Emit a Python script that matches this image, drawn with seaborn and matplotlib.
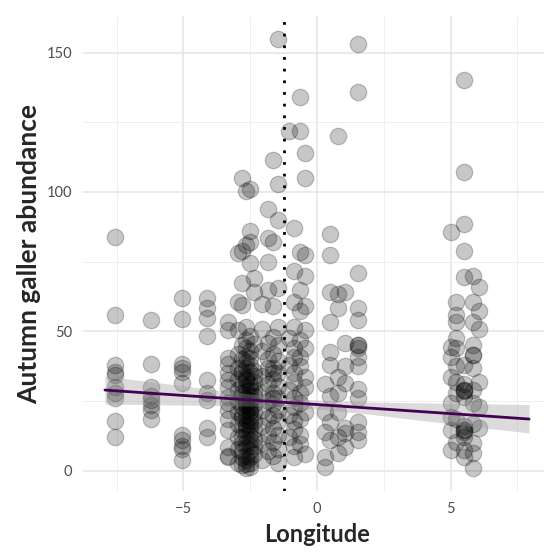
import numpy as np
import pandas as pd
import matplotlib
matplotlib.use("Agg")
import matplotlib.pyplot as plt
import seaborn as sns

# site longitudes and autumn galler counts
site_lon = [-7.55, -6.2, -5.05, -4.1, -3.35,
            -2.95, -2.8, -2.65, -2.5, -2.35,
            -2.05, -1.85, -1.65, -1.45,
            -1.05, -0.85, -0.65, -0.45,
            0.3, 0.5, 0.8, 1.05, 1.55,
            5.0, 5.2, 5.5, 5.85, 6.05]

galls_a = [84, 56, 38, 35.5, 34.5, 30, 28, 26, 18, 12]
galls_b = [54, 38.5, 30, 27, 25.5, 23.5, 22, 18.5]
galls_c = [62, 54.5, 38.5, 37, 35.5, 31.5, 13, 11, 9, 8, 4]
galls_d = [62, 58.5, 55, 48.5, 32.5, 28, 25.5, 15.5, 12]
galls_e = [53.5, 50.5, 40.5, 38.5, 35, 32.5, 30, 26.5, 24.5, 22, 18.5, 14.5, 8.5, 5.5, 5]
galls_f1 = [78, 60.5, 50.5, 42, 37, 33, 29, 25, 21, 17, 12, 8, 3]
galls_f2 = [105, 79, 67.5, 59.5, 45, 40, 35, 31, 27, 23, 19, 15, 10, 5, 2, 36, 28, 20, 12, 7]
galls_g1 = [100.5, 81, 51.5, 47, 44, 41, 39, 37, 34, 32.5, 30, 28.5, 26, 25, 23.5, 22, 20,
            18.5, 16, 14.5, 13, 10, 8.5, 5.5, 4, 2.5, 1, 33, 24, 17]
galls_g2 = [101, 86, 82, 74.5, 48.5, 43, 40.5, 38, 35.5, 31, 29, 27, 25.5, 24, 22.5, 21,
            19.5, 18, 16.5, 15, 13, 11, 9, 7, 5, 3, 1.5, 30, 21.5]
galls_h = [69, 64, 45.5, 36, 34, 32, 28.5, 27, 24, 21, 18, 15, 11.5, 9, 6]
galls_i1 = [60, 51, 43, 34, 28, 22, 16, 10, 4]
galls_i2 = [94, 83.5, 75, 65, 46, 40, 37, 31, 25, 19, 13, 7]
galls_j1 = [111.5, 82, 59, 48, 42, 37, 33, 28, 24, 20, 15.5, 10.5, 5.5, 35, 26]
galls_j2 = [155, 103, 90, 65.5, 51.5, 45, 39.5, 35, 30.5, 26, 22, 18, 13, 8, 3]
galls_k1 = [122, 47.5, 38, 29, 20, 12]
galls_k2 = [87, 71.5, 60.5, 51.5, 44, 41, 35, 32, 26, 23, 18, 15, 9, 5]
galls_l1 = [134, 122, 78.5, 65, 57.5, 47, 41, 37.5, 28, 24.5, 18.5, 13, 9.5]
galls_l2 = [114, 105, 77.5, 70, 59, 50.5, 33.5, 21, 6, 44, 30]
galls_m1 = [5, 1.5, 21, 31, 14]
galls_m2 = [85, 77.5, 64, 53.5, 42.5, 38, 27, 17.5, 11]
galls_n1 = [120, 63.5, 58.5, 33.5, 28, 21, 12, 6.5]
galls_n2 = [64, 46, 37.5, 31.5, 15.5, 13.5, 8.5]
galls_o = [153, 136, 71, 58.5, 54, 45, 45, 44, 41, 37.5, 29.5, 26, 17.5, 14, 11]
galls_p1 = [85.5, 44.5, 41, 33.5, 24.5, 19.5, 14.5, 7.5]
galls_p2 = [60.5, 56, 53.5, 47.5, 44, 37.5, 32, 28, 18.5, 10.5]
galls_q = [140, 107, 88.5, 79, 69.5, 38, 29, 29, 28.5, 26.5, 14.5, 14.5, 14, 12, 7.5, 5,
           31, 16]
galls_r1 = [70, 60.5, 53.5, 45, 41.5, 41.5, 37, 29, 24.5, 17, 10, 6.5, 1]
galls_r2 = [66, 57.5, 51, 32, 23, 15.5]

site_galls = [galls_a, galls_b, galls_c, galls_d, galls_e,
              galls_f1, galls_f2, galls_g1, galls_g2, galls_h,
              galls_i1, galls_i2, galls_j1, galls_j2,
              galls_k1, galls_k2, galls_l1, galls_l2,
              galls_m1, galls_m2, galls_n1, galls_n2, galls_o,
              galls_p1, galls_p2, galls_q, galls_r1, galls_r2]

# fitted line and confidence band
fit_lon = [-7.94, -6, -4, -2, 0, 2, 4, 6, 7.94]
fit_val = [29.0, 27.7, 26.4, 25.1, 23.8, 22.5, 21.2, 19.9, 18.6]
ci_hi = [34.0, 31.7, 29.3, 27.0, 25.4, 24.7, 24.4, 24.1, 23.8]
ci_lo = [24.0, 23.7, 23.5, 23.2, 22.2, 20.3, 18.0, 15.7, 13.6]

cut_lon = -1.24

df = pd.DataFrame({
    "Longitude": np.concatenate([[lon] * len(g) for lon, g in zip(site_lon, site_galls)]),
    "Autumn galler abundance": np.concatenate(site_galls),
})
fit_df = pd.DataFrame({"Longitude": fit_lon, "fit": fit_val})

sns.set_style("white")
plt.rcParams["font.family"] = ["Lato", "DejaVu Sans"]

fig = plt.figure(figsize=(5.44, 5.52), dpi=100)
ax = fig.add_axes([83 / 544, 61 / 552, 468 / 544, 475 / 552])

# grid like theme_minimal
ax.set_xticks([-5, 0, 5])
ax.set_xticks([-7.5, -2.5, 2.5, 7.5], minor=True)
ax.set_yticks([0, 50, 100, 150])
ax.set_yticks([25, 75, 125], minor=True)
ax.grid(which="major", color="#e6e6e6", linewidth=1.2)
ax.grid(which="minor", color="#efefef", linewidth=0.7)
ax.set_axisbelow(True)
for s in ax.spines.values():
    s.set_visible(False)

sns.scatterplot(data=df, x="Longitude", y="Autumn galler abundance", ax=ax,
                s=140, color="black", alpha=0.22, edgecolor="black", linewidth=0.9)

ax.fill_between(fit_lon, ci_lo, ci_hi, color="#999999", alpha=0.35, linewidth=0, zorder=3)
sns.lineplot(data=fit_df, x="Longitude", y="fit", ax=ax, color="#440154", linewidth=2.0,
             zorder=4)

ax.axvline(cut_lon, color="black", linestyle=(0, (1, 3.2)), linewidth=2.0, zorder=5)

ax.set_xlim(-8.76, 8.76)
ax.set_ylim(-7.2, 163.1)
ax.tick_params(axis="both", length=0, labelsize=10.5, labelcolor="#4d4d4d", pad=8)
ax.set_xlabel("Longitude", fontsize=17, fontweight="bold", labelpad=5)
ax.set_ylabel("Autumn galler abundance", fontsize=19, fontweight="bold", labelpad=4)

fig.savefig("out.png", dpi=100)
